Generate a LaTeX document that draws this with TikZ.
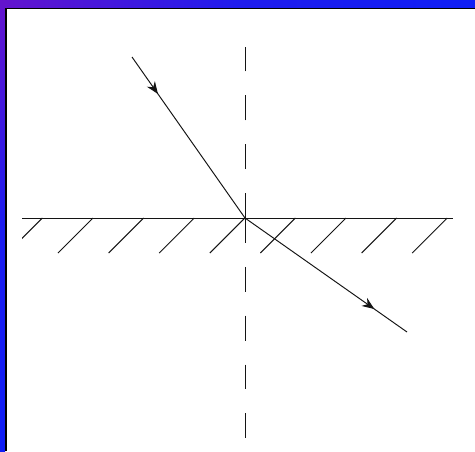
\documentclass[tikz,border=0pt]{standalone}
\usepackage{xcolor}
\usepackage{tikz}
\usetikzlibrary{arrows.meta,decorations.markings,calc}
\definecolor{rfPurple}{RGB}{100, 20,205}
\definecolor{rfBlue}  {RGB}{ 15, 30,245}
\definecolor{rfInk}   {RGB}{ 20, 20, 20}

\begin{document}
\begin{tikzpicture}[x=0.02cm,y=-0.02cm,
  ray/.style={rfInk,line width=0.55pt},
  normal/.style={rfInk,line width=0.55pt,dash pattern=on 14.2pt off 13.6pt},
  midarrow/.style={postaction={decorate,decoration={markings,
      mark=at position #1 with {\arrow{Stealth[length=7pt,width=5.5pt]}}}}}]
\useasboundingbox (0,0) rectangle (475,451);
% Frame: shaded bands on top and left, thin black rule inside
\fill[white] (0,0) rectangle (475,451);
\shade[left color=rfPurple,right color=rfBlue,middle color=rfBlue!80!rfPurple]
   (0,0) rectangle (475,8);
\shade[top color=rfPurple,bottom color=rfBlue,middle color=rfBlue!85!rfPurple]
   (0,0) rectangle (5,451);
\draw[black,line width=1.1pt] (6,451) -- (6,8.5) -- (475,8.5);
% Named points
\coordinate (O)   at (245,218);
\coordinate (S)   at (132,57);
\coordinate (R)   at (407,332);
\coordinate (NT)  at (245,47);
\coordinate (NB)  at (245,440);
\coordinate (SL)  at (22,218);
\coordinate (SR)  at (453,218);
% Normal (dashed), dashes run outward from O
\draw[normal] (O) -- (NT);
\draw[normal] (O) -- (NB);
% Surface and hatching
\draw[ray] (SL) -- (SR);
\begin{scope}
  \clip (22,217) rectangle (455,260);
  \foreach \i in {-1,...,7}{
    \draw[ray] ($(O)+(50.6*\i-152,0)$) -- ++(-35,35);
  }
\end{scope}
% Incident and refracted rays
\draw[ray,midarrow=0.23] (S) -- (O);
\draw[ray,midarrow=0.80] (O) -- (R);
\end{tikzpicture}
\end{document}
